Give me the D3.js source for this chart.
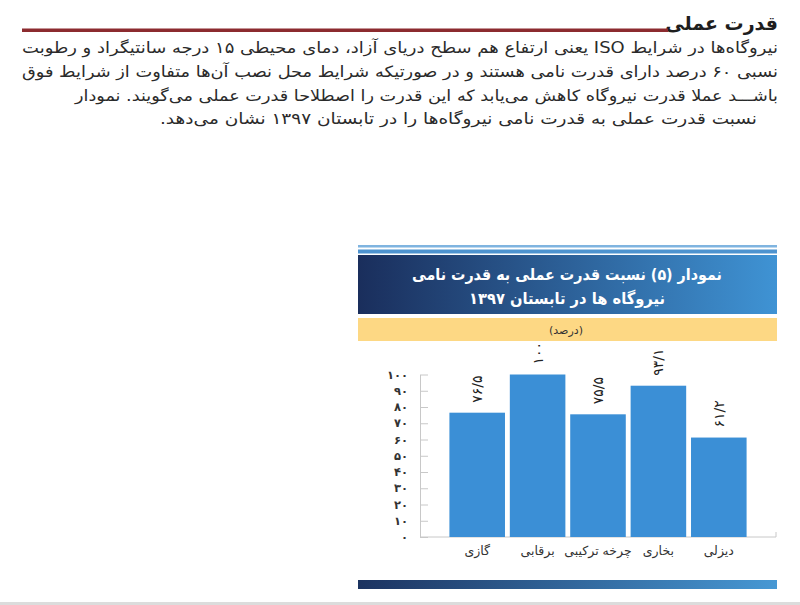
<!DOCTYPE html>
<html><head><meta charset="utf-8">
<script src="https://cdn.jsdelivr.net/npm/d3@7"></script>
<style>html,body{margin:0;padding:0;background:#fff;} svg{display:block}</style>
</head><body>
<svg id="c" width="800" height="605"></svg>
<script>
// ---- data ----
const categories = ["گازی", "برقابی", "چرخه ترکیبی", "بخاری", "دیزلی"];
const values = [76.5, 100, 75.5, 93.1, 61.2];
const yTicks = [0, 10, 20, 30, 40, 50, 60, 70, 80, 90, 100];
const headingText = "قدرت عملی";
const paragraphLines = [
  "نیروگاه‌ها در شرایط ISO یعنی ارتفاع هم سطح دریای آزاد، دمای محیطی ۱۵ درجه سانتیگراد و رطوبت",
  "نسبی ۶۰ درصد دارای قدرت نامی هستند و در صورتیکه شرایط محل نصب آن‌ها متفاوت از شرایط فوق",
  "باشـــد عملا قدرت نیروگاه کاهش می‌یابد که این قدرت را اصطلاحا قدرت عملی می‌گویند. نمودار",
  "نسبت قدرت عملی به قدرت نامی نیروگاه‌ها را در تابستان ۱۳۹۷ نشان می‌دهد."
];
const chartTitleLines = ["نمودار (۵) نسبت قدرت عملی به قدرت نامی", "نیروگاه ها در تابستان ۱۳۹۷"];
const unitLabel = "(درصد)";

// ---- helpers ----
const faDigits = "۰۱۲۳۴۵۶۷۸۹";
const toFa = v => String(v).replace(/\d/g, d => faDigits[+d]).replace(".", "/");

const svg = d3.select("#c");
const defs = svg.append("defs");
function grad(id, c1, c2) {
  const g = defs.append("linearGradient").attr("id", id).attr("x1", "0%").attr("x2", "100%").attr("y1", "0%").attr("y2", "0%");
  g.append("stop").attr("offset", "0%").attr("stop-color", c1);
  g.append("stop").attr("offset", "100%").attr("stop-color", c2);
}
grad("hdr", "#1a2e5c", "#3f93d4");
grad("foot", "#1c3360", "#4798d4");

const FONT = "'DejaVu Sans', 'Noto Sans', sans-serif";

// ---- page heading ----
svg.append("text").attr("x", 778).attr("y", 30)
  .attr("direction", "rtl").attr("text-anchor", "start")
  .attr("font-family", FONT).attr("font-weight", "bold").attr("font-size", 19)
  .attr("fill", "#1e1e1e").text(headingText);
svg.append("rect").attr("x", 22).attr("y", 28.5).attr("width", 646).attr("height", 3.5).attr("fill", "#8c2b2f");

// ---- paragraph ----
const paraRight = [778, 778, 778, 757];
const paraWidth = [756, 756, 703, 597];
const paraY = [53, 77, 101, 124];
paragraphLines.forEach((t, i) => {
  svg.append("text").attr("x", paraRight[i]).attr("y", paraY[i])
    .attr("direction", "rtl").attr("text-anchor", "start")
    .attr("font-family", FONT).attr("font-size", 15.5).attr("fill", "#2a2a2a")
    .attr("textLength", paraWidth[i]).attr("lengthAdjust", "spacingAndGlyphs")
    .text(t);
});

// ---- chart header ----
svg.append("rect").attr("x", 358).attr("y", 245).attr("width", 419).attr("height", 2.5).attr("fill", "#7fb4e0");
svg.append("rect").attr("x", 358).attr("y", 249.5).attr("width", 419).attr("height", 4).attr("fill", "#4d93cf");
svg.append("rect").attr("x", 358).attr("y", 255).attr("width", 419).attr("height", 59).attr("fill", "url(#hdr)");
const titleW = [310, 196];
chartTitleLines.forEach((t, i) => {
  svg.append("text").attr("x", 567).attr("y", 280 + i * 24)
    .attr("direction", "rtl").attr("text-anchor", "middle")
    .attr("font-family", FONT).attr("font-weight", "bold").attr("font-size", 16)
    .attr("fill", "#ffffff")
    .attr("textLength", titleW[i]).attr("lengthAdjust", "spacingAndGlyphs")
    .text(t);
});
svg.append("rect").attr("x", 358).attr("y", 318).attr("width", 419).attr("height", 23).attr("fill", "#fdd884");
svg.append("text").attr("x", 566).attr("y", 334)
  .attr("direction", "rtl").attr("text-anchor", "middle")
  .attr("font-family", FONT).attr("font-size", 11).attr("fill", "#333")
  .text(unitLabel);

// ---- scales ----
const y = d3.scaleLinear().domain([0, 100]).range([537, 374.5]);
const x = d3.scaleBand().domain(categories).range([447, 749]).paddingInner(0.08).paddingOuter(0.04);

// ---- y axis ----
const yAxis = d3.axisLeft(y).tickValues(yTicks).tickFormat(toFa)
  .tickSizeInner(-8).tickSizeOuter(0).tickPadding(12);
const ga = svg.append("g").attr("transform", "translate(420,0)").call(yAxis);
ga.select(".domain").attr("stroke", "#c8c8c8");
ga.selectAll(".tick line").attr("stroke", "#c8c8c8");
ga.selectAll(".tick text").attr("font-family", FONT).attr("font-size", 11.5).attr("font-weight", "bold")
  .attr("fill", "#333").attr("letter-spacing", 3).attr("direction", "ltr");

// baseline
svg.append("line").attr("x1", 420).attr("x2", 776).attr("y1", y(0)).attr("y2", y(0)).attr("stroke", "#c8c8c8");
svg.append("line").attr("x1", 776).attr("x2", 776).attr("y1", y(0) - 5).attr("y2", y(0)).attr("stroke", "#c8c8c8");

// ---- bars ----
svg.append("g").selectAll("rect").data(values).join("rect")
  .attr("x", (d, i) => x(categories[i]))
  .attr("y", d => y(d))
  .attr("width", x.bandwidth())
  .attr("height", d => y(0) - y(d))
  .attr("fill", "#3b8fd6");

// value labels (rotated, reading bottom to top)
svg.append("g").selectAll("text").data(values).join("text")
  .attr("transform", (d, i) => `translate(${x(categories[i]) + x.bandwidth() / 2},${y(d) - 10}) rotate(-90)`)
  .attr("direction", "ltr").attr("text-anchor", "start").attr("dominant-baseline", "central")
  .attr("font-family", FONT).attr("font-size", 14).attr("fill", "#222")
  .attr("letter-spacing", 2.5)
  .text(d => toFa(d));

// category labels
svg.append("g").selectAll("text").data(categories).join("text")
  .attr("x", d => x(d) + x.bandwidth() / 2)
  .attr("y", 555)
  .attr("direction", "rtl").attr("text-anchor", "middle")
  .attr("font-family", FONT).attr("font-size", 12.5).attr("fill", "#333")
  .text(d => d);

// ---- footer bar ----
svg.append("rect").attr("x", 358).attr("y", 580).attr("width", 419).attr("height", 9).attr("fill", "url(#foot)");
svg.append("rect").attr("x", 0).attr("y", 602).attr("width", 800).attr("height", 3).attr("fill", "#dcdcdc");
</script>
</body></html>
